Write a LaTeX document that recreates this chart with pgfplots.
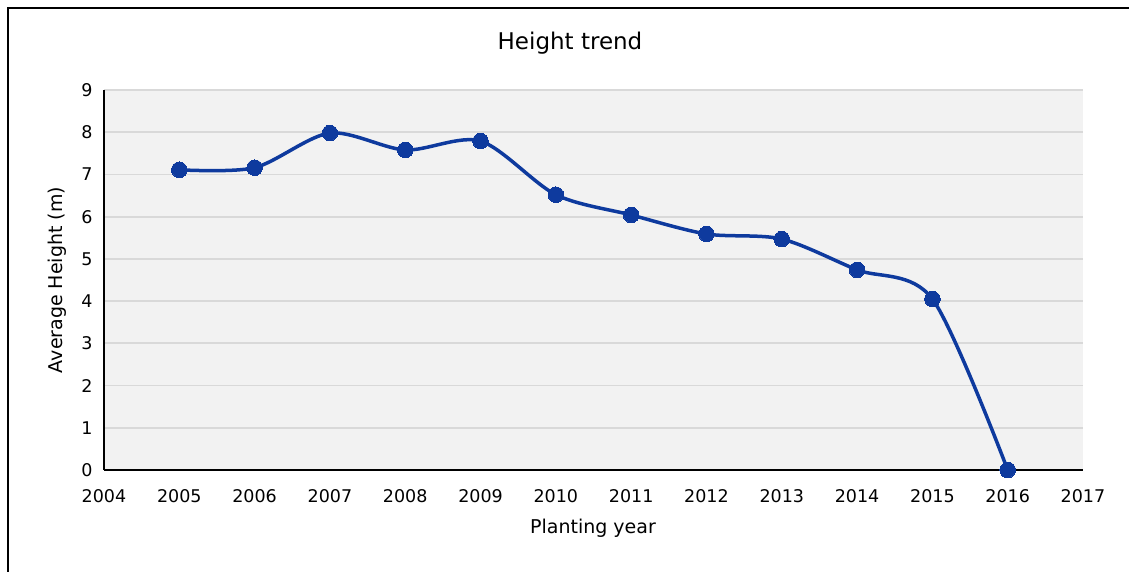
\documentclass[border=0pt]{standalone}
\usepackage{fontspec}
\setmainfont{DejaVu Sans}
\usepackage{pgfplots}
\pgfplotsset{compat=1.18}
\definecolor{linec}{RGB}{14,58,158}
\definecolor{bgc}{RGB}{242,242,242}
\definecolor{gridc}{RGB}{217,217,217}
\begin{document}
\begin{tikzpicture}[x=1bp,y=1bp]
\useasboundingbox (0,0) rectangle (1129,572);
\draw[line width=2bp] (8,0) -- (8,564) -- (1129,564);
\node[font=\fontsize{23bp}{27bp}\selectfont] at (570,529) {Height trend};
\node[font=\fontsize{19bp}{23bp}\selectfont] at (593,44) {Planting year};
\node[font=\fontsize{19bp}{23bp}\selectfont, rotate=90] at (57,292) {Average Height (m)};
\begin{axis}[
  at={(104bp,102bp)}, anchor=south west,
  scale only axis, width=979bp, height=380bp,
  xmin=2004, xmax=2017, ymin=0, ymax=9,
  xtick={2004,2005,...,2017}, ytick={0,1,...,9},
  axis background/.style={fill=bgc},
  axis lines*=left,
  axis line style={-, black, line width=1.6bp},
  major tick length=0pt,
  ymajorgrids, grid style={gridc, line width=1.8bp},
  /pgf/number format/assume math mode=true,
  /pgf/number format/set thousands separator={},
  tick label style={font=\fontsize{17.5bp}{21bp}\selectfont},
  xticklabel style={yshift=-16bp},
  yticklabel style={xshift=-8bp},
  clip=false,
]
\addplot[linec, line width=3.5bp, smooth, mark=*, mark size=7.8bp,
  mark options={solid, fill=linec, draw=linec, line width=0pt}]
coordinates {
(2005,7.11) (2006,7.16) (2007,7.98) (2008,7.58) (2009,7.79) (2010,6.52)
(2011,6.04) (2012,5.59) (2013,5.47) (2014,4.74) (2015,4.05) (2016,0)
};
\end{axis}
\end{tikzpicture}
\end{document}
